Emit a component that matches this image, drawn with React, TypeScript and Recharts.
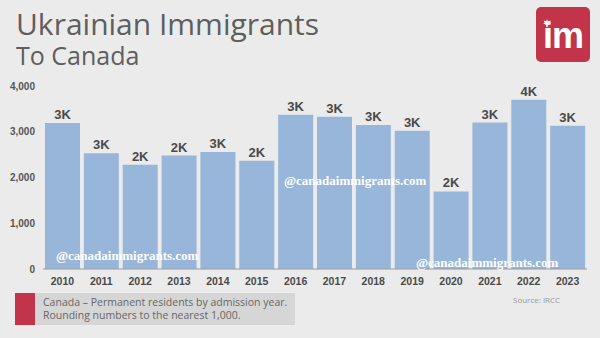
import { BarChart, Bar, XAxis, YAxis, LabelList } from 'recharts';

const years = ['2010', '2011', '2012', '2013', '2014', '2015', '2016', '2017', '2018', '2019', '2020', '2021', '2022', '2023'];
const residents = [3190, 2530, 2280, 2480, 2560, 2365, 3370, 3330, 3150, 3020, 1695, 3200, 3700, 3130];
const yTicks = [0, 1000, 2000, 3000, 4000];

const data = years.map((year, i) => ({ year, value: residents[i] }));

const sans = '"Liberation Sans", Arial, sans-serif';

const Watermark = ({ x, y }: { x: number; y: number }) => (
    <div style={{
        position: 'absolute', left: x, top: y,
        color: '#fff', fontFamily: '"Liberation Serif", serif', fontWeight: 700,
        fontSize: 13, whiteSpace: 'nowrap', lineHeight: '14px',
    }}>@canadaimmigrants.com</div>
);

export default function App() {
    return (
        <div style={{ position: 'fixed', left: 0, top: 0, width: 600, height: 338, background: '#ebebeb', overflow: 'hidden' }}>
            <div style={{ position: 'absolute', left: 16, top: 9, fontFamily: '"Open Sans", sans-serif', color: '#5e5e5e', fontSize: 30, lineHeight: '30px', whiteSpace: 'nowrap' }}>
                Ukrainian Immigrants
            </div>
            <div style={{ position: 'absolute', left: 16, top: 43, fontFamily: '"Open Sans", sans-serif', color: '#5e5e5e', fontSize: 25, lineHeight: '25px', whiteSpace: 'nowrap' }}>
                To Canada
            </div>

            {/* logo */}
            <div style={{
                position: 'absolute', left: 536, top: 7, width: 54, height: 55, borderRadius: 5,
                background: '#c2344a', color: '#fff', fontFamily: sans, fontWeight: 700,
                fontSize: 36, lineHeight: '58px', textAlign: 'center', letterSpacing: -1,
            }}>
                im
                <svg width="8" height="8" viewBox="0 0 10 10" style={{ position: 'absolute', left: 7, top: 12 }}>
                    <polygon points="5,0 6,3 9,2 8,5 10,6 6,7 6,10 4,10 4,7 0,6 2,5 1,2 4,3" fill="#fff" />
                </svg>
            </div>

            <div style={{ position: 'absolute', left: 0, top: 0 }}>
                <BarChart width={600} height={338} data={data}
                    margin={{ top: 86, right: 13, bottom: 49, left: 0 }}
                    barCategoryGap={2}>
                    <XAxis dataKey="year" height={20} tickLine={false}
                        axisLine={{ stroke: '#9a9a9a', strokeWidth: 1 }}
                        tick={{ fill: '#4a4a4a', fontSize: 10.5, fontWeight: 700, fontFamily: sans }}
                        interval={0} dy={1} />
                    <YAxis width={43} domain={[0, 4000]} ticks={yTicks} axisLine={false} tickLine={false}
                        tickFormatter={(v: number) => v.toLocaleString('en-US')}
                        tick={{ fill: '#555', fontSize: 10, fontWeight: 700, fontFamily: sans }} />
                    <Bar dataKey="value" fill="#98b6da" isAnimationActive={false}>
                        <LabelList dataKey="value" position="top" offset={4}
                            formatter={(v: any) => Math.round(Number(v) / 1000) + 'K'}
                            style={{ fill: '#4a4a4a', fontSize: 13, fontWeight: 700, fontFamily: sans }} />
                    </Bar>
                </BarChart>
            </div>

            <Watermark x={56} y={249} />
            <Watermark x={284} y={174} />
            <Watermark x={416} y={256} />

            {/* footer */}
            <div style={{ position: 'absolute', left: 15, top: 293, width: 20, height: 32, background: '#c2344a' }} />
            <div style={{
                position: 'absolute', left: 35, top: 293, width: 260, height: 32, background: '#d6d6d6',
                fontFamily: '"Open Sans", sans-serif', fontSize: 10.5, color: '#666', lineHeight: '13px',
                boxSizing: 'border-box', padding: '3px 0 0 8px', whiteSpace: 'nowrap',
            }}>
                <div>Canada – Permanent residents by admission year.</div>
                <div>Rounding numbers to the nearest 1,000.</div>
            </div>
            <div style={{ position: 'absolute', left: 513, top: 294, fontFamily: '"Open Sans", sans-serif', fontSize: 8, color: '#999' }}>
                Source: IRCC
            </div>
        </div>
    );
}
